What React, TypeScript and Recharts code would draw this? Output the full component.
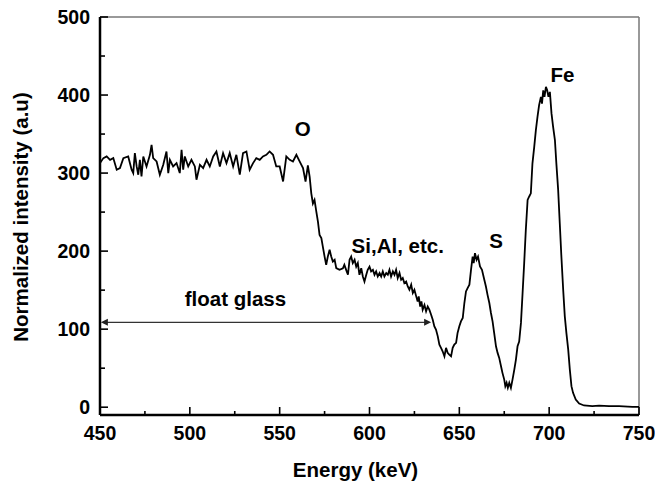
import React from 'react';
import { LineChart, Line, XAxis, YAxis, ReferenceLine, ReferenceDot } from 'recharts';

const energy = [450,451.9,453.7,455.6,457.4,459.3,461.1,463,465.7,467.6,468.5,469.4,470.4,471.3,472.2,473.1,474.1,475.9,477.8,478.7,479.6,481.5,483.3,485.2,487,488,488.9,490.7,492.6,494.4,495.4,496.3,497.2,499.1,500.9,502.8,503.7,505.6,507.4,509.3,511.1,513,514.8,516.7,518.5,520.4,522.2,524.1,525.9,527.8,529.6,531.5,533.3,535.2,537,538.9,540.7,542.6,544.4,546.3,548.1,550,551.9,553.7,555.6,557.4,559.3,561.1,563,564.4,565.7,566.7,567.6,568.5,569.4,570.4,571.3,572.2,573.2,574,575,575.9,576.8,577.8,578.7,579.6,580.6,581.5,583.3,585.2,586,587,588,588.9,589.8,590.7,591.7,592.6,593.5,594.4,595.4,596.3,597.2,598.2,599,600,600.9,601.9,602.8,603.7,604.6,605.6,606.5,607.4,608.3,609.3,610.2,611.1,612,613,613.9,614.8,615.7,616.7,617.6,618.5,619.4,620.4,621.3,622.2,623.2,624.1,625,626,626.8,627.4,628.2,628.9,629.6,630.6,631.5,632.4,633.3,634.3,635.2,636.1,637,638,638.9,639.8,640.7,641.7,642.6,643.5,644.4,645.4,646.3,647.2,648.2,649,650,650.9,651.9,652.8,653.7,654.6,655.6,656.5,657.4,658,658.7,659.6,660.4,661.5,662.6,663.9,664.8,665.7,666.7,667.6,668.5,669.4,670.4,671.3,672.2,673.2,674,675,675.6,676.3,677,677.8,678.7,679.6,680.6,681.5,682.4,683.3,684.3,685.2,686.1,687,688,688.9,689.8,690.7,691.7,692.6,693.5,694.4,695.4,696,696.7,697.4,698.2,698.9,699.6,700.4,701.3,702.2,703.2,704,705,705.9,706.8,707.8,708.7,709.6,710.6,711.5,712.4,713.3,714.8,716.7,719.4,724,727.8,733.3,738.9,746.3,750];

const intensity = [312.8,319.2,321.3,317,319.2,304.3,306.4,319.2,321.3,304.3,300,325.6,308.5,297.9,317,295.7,321.3,308.5,323.4,336.2,319.2,314.9,297.9,310.7,327.7,300,317,308.5,312.8,300,329.8,304.3,321.3,308.5,317,308.5,291.5,310.7,306.4,317,308.5,321.3,327.7,308.5,325.6,312.8,325.6,308.5,323.4,297.9,325.6,327.7,304.3,312.8,319.2,317,321.3,323.4,327.7,323.4,308.5,308.5,289.3,321.3,317,314.9,323.4,314.9,306.4,289,310,295,274,261,265.6,250.6,237.8,220.8,216.6,206,193,182.5,193,201.7,193,186.7,188.9,178.3,176,178,182.5,176,169.7,189,193,184.7,189,180,184.7,169.7,178,167.5,161,169.7,176,180,174,176,169.7,174,167.5,171.9,167.5,174,167.5,172,169.7,176,167.5,174,169.7,176,165.5,172,163.3,165.5,159,161,154.7,150.5,157,146.3,150.5,142,135.5,142,129,135.5,125,131,122.8,129,125,118.5,112,103.6,99.4,90.8,80.2,76,71.6,65.2,76,69.6,67.4,65.2,76,80.2,82.4,95,103.6,110,114.3,133.5,148.3,152.7,157,176,193,184.7,197.4,188.9,193,180.3,176,163.3,154.7,144,133.5,120.7,110,95,78,69.6,63.2,52.4,44,35.4,26.9,31.2,24.8,31.2,24.8,35.4,48.2,61,78,84,108,146,184.7,227,265.6,270,274,312.5,333.8,355,372,387,397.7,389,406,397.7,410.5,406,397.7,404,376.5,359.3,342.3,312.5,278.4,235.8,193,150.5,116.4,95,73.8,48.2,27,18.4,9.8,4.7,2.2,1.3,2,1.3,1.3,0.5,0.5];

const xLabels = [450,500,550,600,650,700,750];
const xMinorTicks = [475,525,575,625,675,725];
const yLabels = [0,100,200,300,400,500];
const yMinorTicks = [50,150,250,350,450];
const xMin = 450;
const xMax = 750;
const yMin = -10;
const yMax = 500;

const annotations = [
  { x: 562.8, y: 357, text: 'O' },
  { x: 707.4, y: 426.5, text: 'Fe' },
  { x: 670.4, y: 213, text: 'S' },
  { x: 615.7, y: 207.4, text: 'Si,Al, etc.' },
  { x: 525.4, y: 139, text: 'float glass' },
];
const arrowStart = { x: 450.5, y: 108.7 };
const arrowEnd = { x: 634.3, y: 108.7 };

const data = energy.map((e, i) => ({ e, v: intensity[i] }));

const FONT = 'Arial, "Liberation Sans", sans-serif';
const FS = 19.5;
const FT = 20.5;

// minor tick lengths in axis units (plot is 539 px wide for 300 keV, 398 px tall for 510 units)
const xMinorLen = 4 * 510 / 398;
const yMinorLen = 5 * 300 / 539;

const XTick = (props: any) => {
  const { x, y, payload } = props;
  return (
    <text x={x} y={Number(y) + 25} textAnchor="middle" fontFamily={FONT} fontWeight="bold" fontSize={FS} fill="#000">
      {payload.value}
    </text>
  );
};

const YTick = (props: any) => {
  const { x, y, payload } = props;
  return (
    <text x={Number(x) - 10} y={Number(y) + 7} textAnchor="end" fontFamily={FONT} fontWeight="bold" fontSize={FS} fill="#000">
      {payload.value}
    </text>
  );
};

const XTitle = (props: any) => {
  const vb = props.viewBox;
  return (
    <text x={vb.x + vb.width / 2 - 14} y={vb.y + 62} textAnchor="middle" fontFamily={FONT} fontWeight="bold" fontSize={FT} fill="#000">
      Energy (keV)
    </text>
  );
};

const YTitle = (props: any) => {
  const vb = props.viewBox;
  const cx = 20;
  const cy = vb.y + vb.height / 2 + 1;
  return (
    <text x={cx} y={cy} transform={`rotate(-90, ${cx}, ${cy})`} textAnchor="middle" dominantBaseline="central" fontFamily={FONT} fontWeight="bold" fontSize={FT} fill="#000">
      Normalized intensity (a.u)
    </text>
  );
};

const Arrow = (props: any) => {
  const { x1, y1, x2, y2 } = props;
  const h = 7;
  const w = 3.5;
  return (
    <g>
      <line x1={x1 + h - 1} y1={y1} x2={x2 - h + 1} y2={y2} stroke="#333" strokeWidth={1.2} />
      <polygon points={`${x1},${y1} ${x1 + h},${y1 - w} ${x1 + h},${y1 + w}`} fill="#222" />
      <polygon points={`${x2},${y2} ${x2 - h},${y2 - w} ${x2 - h},${y2 + w}`} fill="#222" />
    </g>
  );
};

export default function App() {
  return (
    <div style={{ position: 'absolute', left: 0, top: 0, background: '#fff' }}>
      <LineChart width={655} height={485} data={data} margin={{ top: 17, right: 16, left: 0, bottom: 0 }}>
        <XAxis
          dataKey="e"
          type="number"
          domain={[xMin, xMax]}
          ticks={xLabels}
          allowDataOverflow
          tick={<XTick />}
          tickLine={{ stroke: '#000', strokeWidth: 1.6 }}
          tickSize={-8}
          tickMargin={8}
          height={70}
          axisLine={{ stroke: '#000', strokeWidth: 2.5 }}
          interval={0}
          label={<XTitle />}
        />
        <YAxis
          type="number"
          domain={[yMin, yMax]}
          ticks={yLabels}
          allowDataOverflow
          tick={<YTick />}
          tickLine={{ stroke: '#000', strokeWidth: 1.6 }}
          tickSize={-8}
          tickMargin={8}
          width={100}
          axisLine={{ stroke: '#000', strokeWidth: 2.5 }}
          interval={0}
          label={<YTitle />}
        />
        <ReferenceLine y={yMax} stroke="#777" strokeWidth={1.5} ifOverflow="visible" />
        <ReferenceLine x={xMax} stroke="#777" strokeWidth={1.5} ifOverflow="visible" />
        {xMinorTicks.map((t) => (
          <ReferenceLine
            key={'xt' + t}
            ifOverflow="visible"
            stroke="#000"
            strokeWidth={1.6}
            segment={[{ x: t, y: yMin }, { x: t, y: yMin + xMinorLen }]}
          />
        ))}
        {yMinorTicks.map((t) => (
          <ReferenceLine
            key={'yt' + t}
            ifOverflow="visible"
            stroke="#000"
            strokeWidth={1.6}
            segment={[{ x: xMin, y: t }, { x: xMin + yMinorLen, y: t }]}
          />
        ))}
        <ReferenceLine segment={[arrowStart, arrowEnd]} shape={<Arrow />} ifOverflow="visible" />
        {annotations.map((a) => (
          <ReferenceDot
            key={a.text}
            x={a.x}
            y={a.y}
            r={0.1}
            fill="none"
            stroke="none"
            ifOverflow="visible"
            label={{ value: a.text, position: 'center', fontFamily: FONT, fontWeight: 'bold', fontSize: FT, fill: '#000' }}
          />
        ))}
        <Line type="linear" dataKey="v" stroke="#000" strokeWidth={1.8} dot={false} isAnimationActive={false} />
      </LineChart>
    </div>
  );
}
